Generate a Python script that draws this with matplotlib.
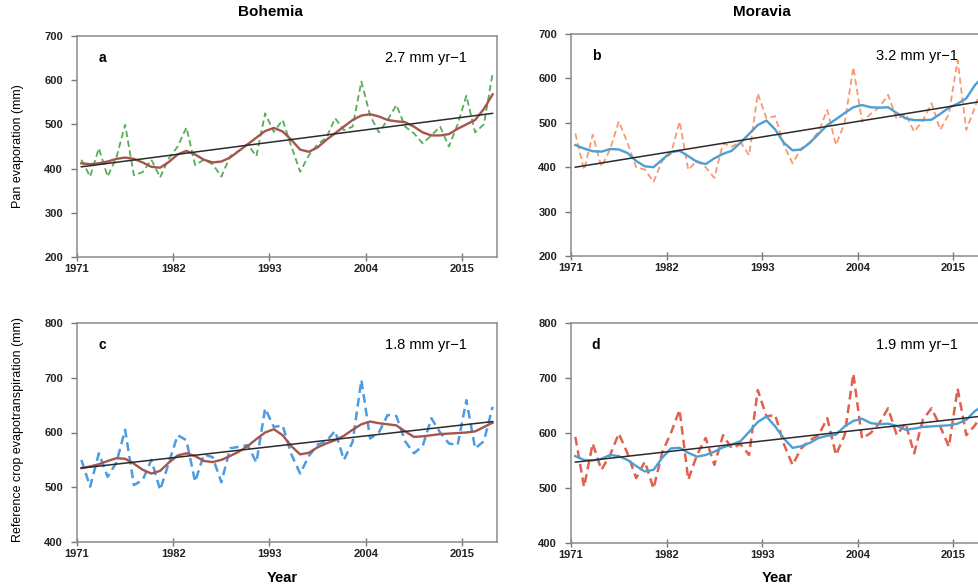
import matplotlib
matplotlib.use("Agg")
import matplotlib.pyplot as plt
import numpy as np

plt.rcParams['font.family'] = ['Liberation Sans', 'DejaVu Sans']

years = np.arange(1971, 2019)
xticks = [1971, 1982, 1993, 2004, 2015]

# a - Bohemia pan evaporation
pan_boh = [420, 382, 446, 382, 425, 499, 385, 392, 420, 380, 423, 450, 493, 408, 420, 410,
           382, 428, 440, 455, 428, 525, 483, 510, 450, 393, 430, 455, 470, 514, 487, 495,
           597, 520, 482, 510, 544, 495, 480, 457, 475, 495, 450, 500, 565, 482, 500, 615]
pan_boh_s = [412, 410, 412, 416, 422, 425, 422, 414, 404, 402, 415, 432, 440, 432, 420, 414,
             416, 425, 440, 455, 470, 485, 492, 484, 465, 443, 438, 448, 465, 480, 495, 510,
             520, 523, 518, 510, 507, 505, 495, 482, 475, 475, 478, 490, 500, 510, 535, 568]
pan_boh_trend = [404, 525]

# b - Moravia pan evaporation
pan_mor = [476, 394, 473, 401, 440, 503, 455, 400, 395, 367, 415, 430, 503, 394, 415, 400,
           376, 454, 446, 457, 427, 566, 510, 515, 450, 409, 442, 456, 480, 529, 450, 500,
           625, 503, 520, 535, 563, 508, 520, 480, 505, 544, 484, 520, 641, 484, 535, 600]
pan_mor_s = [450, 442, 436, 435, 441, 440, 432, 414, 402, 400, 417, 434, 437, 425, 412, 407,
             420, 430, 437, 455, 475, 495, 505, 485, 455, 438, 440, 455, 475, 495, 508, 522,
             535, 540, 535, 534, 535, 522, 510, 506, 506, 507, 520, 534, 543, 555, 585, 605]
pan_mor_trend = [400, 549]

# c - Bohemia reference ET
et_boh = [550, 501, 562, 519, 545, 605, 504, 513, 550, 495, 545, 595, 586, 510, 560, 555,
          509, 571, 574, 577, 545, 644, 610, 613, 560, 525, 557, 578, 584, 603, 550, 583,
          696, 589, 600, 632, 630, 584, 562, 575, 626, 600, 580, 577, 659, 571, 584, 647]
et_boh_s = [535, 538, 542, 548, 553, 552, 543, 532, 525, 530, 545, 558, 562, 557, 548, 546,
            550, 557, 565, 575, 588, 600, 606, 595, 575, 560, 563, 573, 580, 586, 594, 605,
            615, 620, 617, 615, 613, 602, 592, 593, 595, 597, 598, 599, 600, 602, 610, 618]
et_boh_trend = [535, 620]

# d - Moravia reference ET
et_mor = [593, 502, 581, 533, 560, 599, 563, 518, 548, 499, 565, 600, 642, 515, 560, 591,
          542, 596, 572, 580, 560, 678, 630, 633, 580, 542, 572, 587, 596, 627, 560, 596,
          708, 590, 600, 618, 645, 596, 618, 563, 624, 645, 612, 575, 681, 596, 614, 640]
et_mor_s = [558, 551, 550, 553, 560, 558, 551, 540, 530, 533, 555, 572, 573, 564, 557, 560,
            566, 574, 579, 585, 602, 620, 630, 612, 590, 573, 576, 582, 591, 595, 597, 612,
            622, 626, 618, 616, 617, 613, 606, 608, 611, 612, 613, 614, 617, 624, 640, 650]
et_mor_trend = [547, 631]

W, H = 979, 586
fig = plt.figure(figsize=(W / 100, H / 100), dpi=100)


def box(l, t, r, b):
    return [l / W, 1 - b / H, (r - l) / W, (b - t) / H]


panels = [
    (box(77, 36, 497, 257), pan_boh, pan_boh_s, pan_boh_trend, '#5aab5a', '#a5554c', (200, 700), 'a', '2.7 mm yr\u22121', 1.3),
    (box(571, 34, 988, 256), pan_mor, pan_mor_s, pan_mor_trend, '#f79a72', '#4d9fd4', (200, 700), 'b', '3.2 mm yr\u22121', 1.3),
    (box(77, 323, 497, 542), et_boh, et_boh_s, et_boh_trend, '#4d9be0', '#a5554c', (400, 800), 'c', '1.8 mm yr\u22121', 1.8),
    (box(571, 323, 988, 543), et_mor, et_mor_s, et_mor_trend, '#e2614e', '#4d9fd4', (400, 800), 'd', '1.9 mm yr\u22121', 1.8),
]

xs = years + 0.5
for pos, raw, smooth, trend, c_raw, c_s, ylim, letter, slope, dlw in panels:
    ax = fig.add_axes(pos)
    ax.plot(xs, raw, color=c_raw, lw=dlw, linestyle=(0, (3.5, 2)))
    ax.plot(xs, smooth, color=c_s, lw=1.7)
    ax.plot([xs[0], xs[-1]], trend, color='#2b2b2b', lw=1.1)
    ax.set_xlim(1971, 2019)
    ax.set_ylim(*ylim)
    ax.set_xticks(xticks)
    ax.set_yticks(np.arange(ylim[0], ylim[1] + 1, 100))
    ax.tick_params(axis='y', direction='out', length=4, width=1, color='#777777',
                   labelsize=8, pad=6)
    ax.tick_params(axis='x', direction='inout', length=6, width=1, color='#777777',
                   labelsize=8, pad=2)
    for lab in ax.get_xticklabels() + ax.get_yticklabels():
        lab.set_fontweight('bold')
        lab.set_color('#222222')
    for sp in ax.spines.values():
        sp.set_color('#8a8a8a')
        sp.set_linewidth(1.1)
    ax.text(0.06, 0.9, letter, transform=ax.transAxes, fontsize=10, fontweight='bold',
            ha='center', va='center')
    ax.text(0.83, 0.9, slope, transform=ax.transAxes, fontsize=10.5, ha='center', va='center')

fig.text(270 / W, 1 - 12 / H, 'Bohemia', fontsize=11, fontweight='bold', ha='center', va='center')
fig.text(762 / W, 1 - 12 / H, 'Moravia', fontsize=11, fontweight='bold', ha='center', va='center')
fig.text(18 / W, 1 - 146 / H, 'Pan evaporation (mm)', fontsize=9, rotation=90,
         ha='center', va='center')
fig.text(18 / W, 1 - 430 / H, 'Reference crop evapotranspiration (mm)', fontsize=9,
         rotation=90, ha='center', va='center')
fig.text(282 / W, 1 - 578 / H, 'Year', fontsize=10.5, fontweight='bold', ha='center', va='center')
fig.text(777 / W, 1 - 578 / H, 'Year', fontsize=10.5, fontweight='bold', ha='center', va='center')

fig.savefig('out.png', dpi=100)
